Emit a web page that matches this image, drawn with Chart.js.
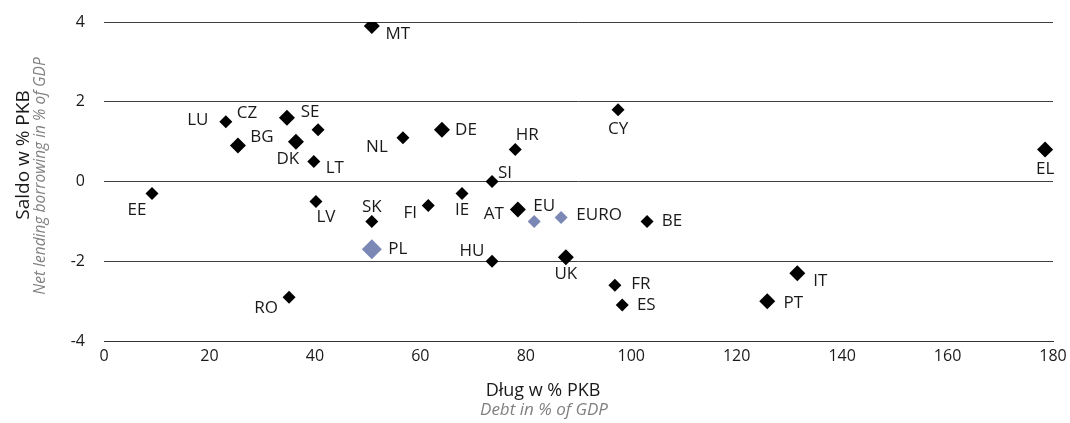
<!DOCTYPE html>
<html>
<head>
<meta charset="utf-8">
<script src="https://cdn.jsdelivr.net/npm/chart.js@4"></script>
<style>
  html, body { margin: 0; padding: 0; background: #fff; }
  #wrap { width: 1070px; height: 423px; }
</style>
</head>
<body>
<div id="wrap"><canvas id="chart" width="1070" height="423"></canvas></div>
<script>
// countries: debt (% of GDP) vs net lending/borrowing (% of GDP)
const countries = ['MT','LU','CZ','SE','BG','DK','LT','NL','DE','CY','HR','EL','EE','SI','LV','SK','FI','IE','AT','BE','HU','UK','FR','ES','RO','IT','PT'];
const debt      = [50.8, 23.1, 34.7, 40.6, 25.4, 36.4, 39.8, 56.7, 64.1, 97.5, 78.0, 178.5, 9.1, 73.6, 40.2, 50.8, 61.5, 67.9, 78.5, 103.0, 73.6, 87.6, 96.9, 98.3, 35.1, 131.5, 125.8];
const balance   = [3.9, 1.5, 1.6, 1.3, 0.9, 1.0, 0.5, 1.1, 1.3, 1.8, 0.8, 0.8, -0.3, 0.0, -0.5, -1.0, -0.6, -0.3, -0.7, -1.0, -2.0, -1.9, -2.6, -3.1, -2.9, -2.3, -3.0];

// Poland and aggregates
const aggNames   = ['PL','EU','EURO'];
const aggDebt    = [50.8, 81.6, 86.7];
const aggBalance = [-1.7, -1.0, -0.9];

const xTicks = [0, 20, 40, 60, 80, 100, 120, 140, 160, 180];
const yTicks = [-4, -2, 0, 2, 4];

// label placement relative to the marker (px)
const labelOffsets = {
  MT:[26,8], LU:[-28,-2], CZ:[-40,-5], SE:[-8,-18], BG:[24,-8], DK:[-8,18], LT:[21,7],
  NL:[-26,10], DE:[24,0], CY:[0,19], HR:[12,-14], EL:[0,20], EE:[-15,17], SI:[13,-8],
  LV:[10,16], SK:[0,-14], FI:[-18,8], IE:[0,17], AT:[-24,5], BE:[25,0], HU:[-20,-10],
  UK:[0,17], FR:[26,-1], ES:[24,0], RO:[-23,11], IT:[23,8], PT:[26,2],
  PL:[26,0], EU:[10,-15], EURO:[38,-2]
};
const bigMarkers = ['MT','CZ','BG','DK','DE','AT','UK','EL','IT','PT'];

const FONT = '"Open Sans", "Noto Sans", sans-serif';

const pointLabels = {
  id: 'pointLabels',
  afterDatasetsDraw(chart) {
    const ctx = chart.ctx;
    ctx.save();
    ctx.font = '17px ' + FONT;
    ctx.fillStyle = '#1a1a1a';
    ctx.textAlign = 'center';
    ctx.textBaseline = 'middle';
    chart.data.datasets.forEach((ds, di) => {
      chart.getDatasetMeta(di).data.forEach((el, i) => {
        const name = ds.names[i];
        const off = labelOffsets[name] || [20, 0];
        ctx.fillText(name, el.x + off[0], el.y + off[1]);
      });
    });
    ctx.restore();
  }
};

const axisTitles = {
  id: 'axisTitles',
  afterDraw(chart) {
    const ctx = chart.ctx;
    ctx.save();
    ctx.textAlign = 'center';
    ctx.textBaseline = 'middle';
    // y title
    ctx.save();
    ctx.translate(24, 155);
    ctx.rotate(-Math.PI / 2);
    ctx.font = '19px ' + FONT;
    ctx.fillStyle = '#1a1a1a';
    ctx.fillText('Saldo w % PKB', 0, 0);
    ctx.restore();
    ctx.save();
    ctx.translate(41, 176);
    ctx.rotate(-Math.PI / 2);
    ctx.font = 'italic 15.5px ' + FONT;
    ctx.fillStyle = '#808080';
    ctx.fillText('Net lending borrowing in % of GDP', 0, 0);
    ctx.restore();
    // x title
    ctx.font = '18px ' + FONT;
    ctx.fillStyle = '#1a1a1a';
    ctx.fillText('Dług w % PKB', 543, 391);
    ctx.font = 'italic 17px ' + FONT;
    ctx.fillStyle = '#808080';
    ctx.fillText('Debt in % of GDP', 544, 410);
    ctx.restore();
  }
};

new Chart(document.getElementById('chart'), {
  type: 'scatter',
  data: {
    datasets: [
      {
        names: countries,
        data: countries.map((c, i) => ({ x: debt[i], y: balance[i] })),
        pointStyle: 'rectRot',
        pointRadius: ctx => bigMarkers.includes(countries[ctx.dataIndex]) ? 8 : 6.5,
        backgroundColor: '#000',
        borderColor: '#000',
        borderWidth: 0
      },
      {
        names: aggNames,
        data: aggNames.map((c, i) => ({ x: aggDebt[i], y: aggBalance[i] })),
        pointStyle: 'rectRot',
        pointRadius: ctx => aggNames[ctx.dataIndex] === 'PL' ? 10 : 6.5,
        backgroundColor: '#7b87b4',
        borderColor: '#7b87b4',
        borderWidth: 0
      }
    ]
  },
  options: {
    responsive: false,
    animation: false,
    devicePixelRatio: 1,
    layout: { padding: { left: 0, top: 22, right: 17, bottom: 0 } },
    plugins: { legend: { display: false }, tooltip: { enabled: false } },
    scales: {
      x: {
        min: 0, max: 180,
        afterBuildTicks: s => { s.ticks = xTicks.map(v => ({ value: v })); },
        afterFit: s => { s.height = 82; s.paddingRight = 10; },
        grid: { display: false, drawTicks: false },
        border: { display: true, color: '#333', width: 1 },
        ticks: { padding: 6, color: '#1a1a1a', font: { family: FONT, size: 16 } }
      },
      y: {
        min: -4, max: 4,
        afterBuildTicks: s => { s.ticks = yTicks.map(v => ({ value: v })); },
        afterFit: s => { s.width = 104; s.paddingTop = 10; s.paddingBottom = 10; },
        grid: { color: '#3f3f3f', lineWidth: 1, drawTicks: false },
        border: { display: false },
        ticks: { padding: 19, color: '#1a1a1a', font: { family: FONT, size: 16 } }
      }
    }
  },
  plugins: [pointLabels, axisTitles]
});
</script>
</body>
</html>
